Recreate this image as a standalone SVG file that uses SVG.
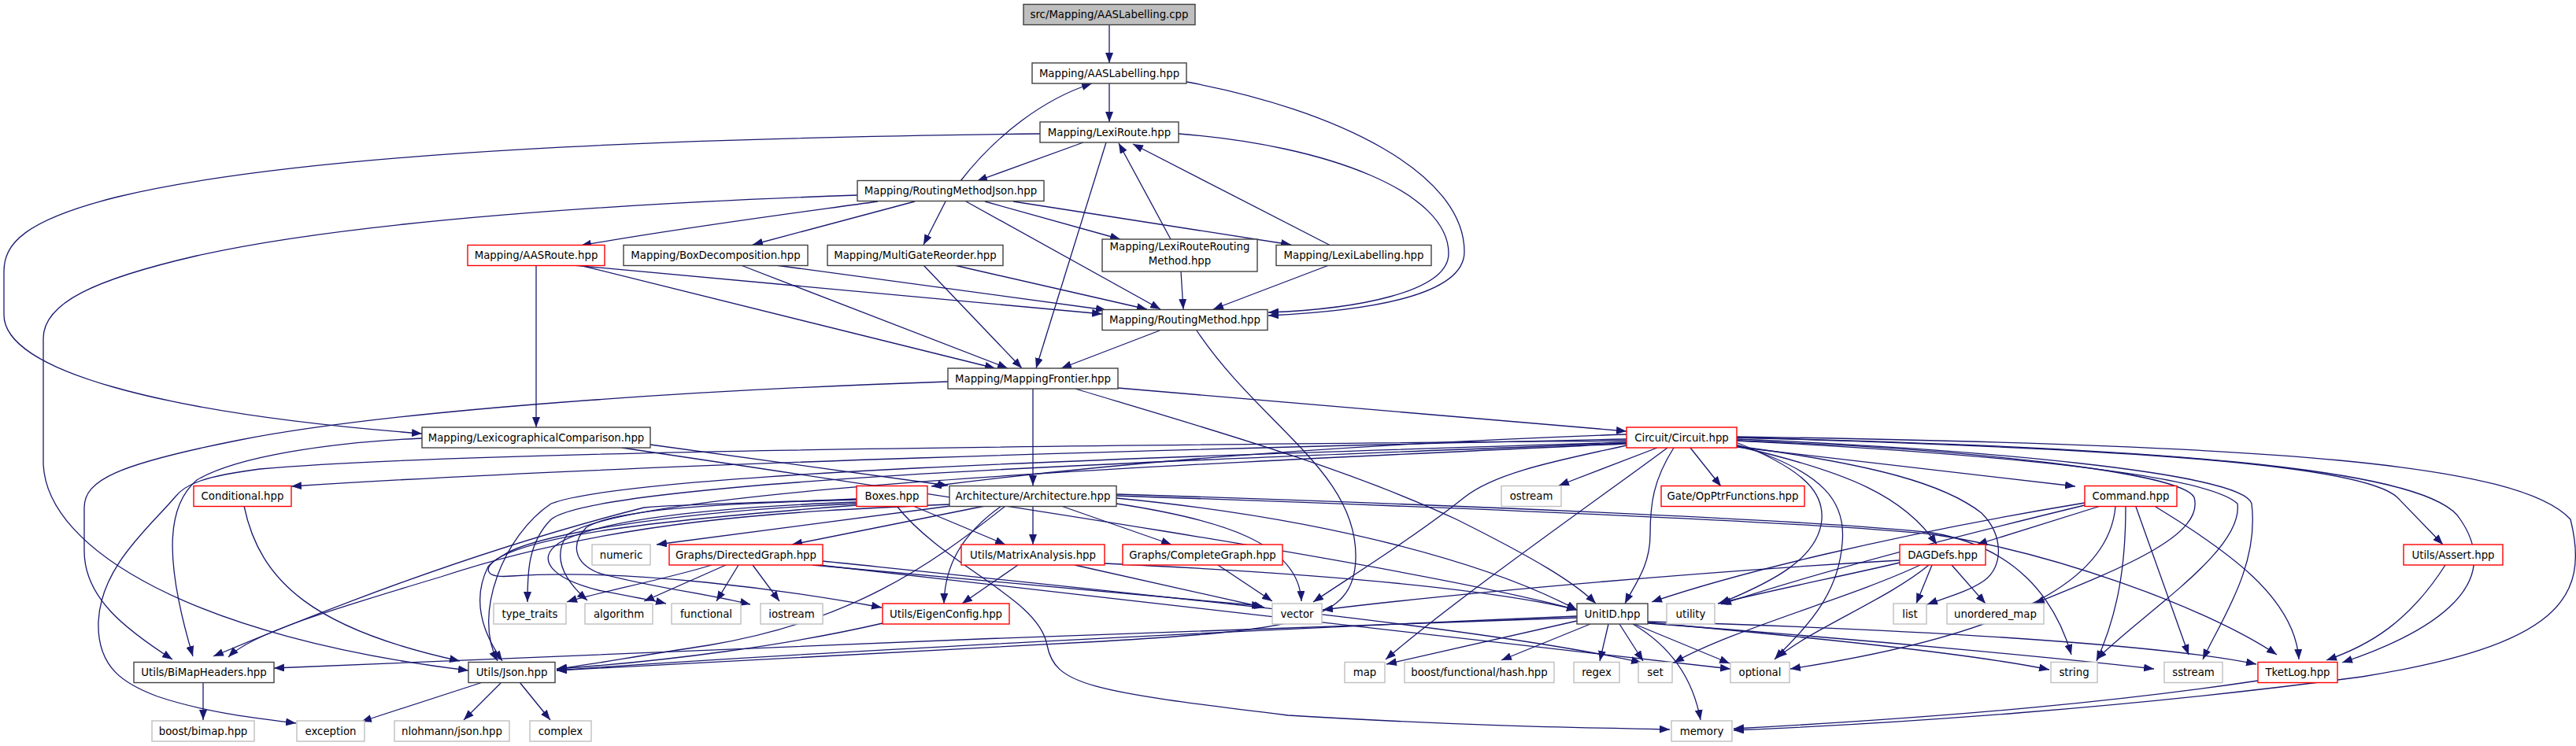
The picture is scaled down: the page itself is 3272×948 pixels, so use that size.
<svg xmlns="http://www.w3.org/2000/svg" width="3272" height="948" viewBox="0 0 3272 948">
<defs>
<marker id="a" markerUnits="userSpaceOnUse" markerWidth="13" markerHeight="10" refX="13" refY="5" orient="auto" viewBox="0 0 13 10"><path d="M0,0 L13,5 L0,10 z" fill="#191970"/></marker>
<style>
.n rect{fill:#fff;stroke-width:1.4}
.b rect{stroke:#404040}
.r rect{stroke:#ff0000}
.g rect{stroke:#bfbfbf}
.root rect{fill:#bfbfbf;stroke:#404040}
text{font-family:"DejaVu Sans","Liberation Sans",sans-serif;font-size:13.3px;text-anchor:middle;fill:#000}
#edges path{fill:none;stroke:#191970;stroke-width:1.3;marker-end:url(#a)}
</style>
</defs>
<rect width="3272" height="948" fill="#fff"/>
<g id="edges">
<path d="M1409,31 L1409,80"/>
<path d="M1409,106 L1409,155"/>
<path d="M1507,104 C1700,140 1860,220 1860,320 C1860,375 1740,395 1611,401"/>
<path d="M1376,181 L1241,230"/>
<path d="M1497,170 C1690,185 1840,245 1840,322 C1840,372 1720,393 1611,397"/>
<path d="M1405,181 L1316,468"/>
<path d="M1321,170 C900,175 400,190 150,250 C30,280 5,310 5,345 L5,400 C5,470 200,525 536,551"/>
<path d="M1220,230 C1265,172 1325,126 1387,106"/>
<path d="M1115,256 C1000,272 860,290 738,312"/>
<path d="M1162,256 L956,311"/>
<path d="M1201,256 L1173,311"/>
<path d="M1227,256 L1474,393"/>
<path d="M1251,256 L1423,304"/>
<path d="M1287,256 L1640,311"/>
<path d="M1089,248 C800,258 450,280 250,325 C120,355 55,385 55,430 L55,590 C60,700 250,810 595,852"/>
<path d="M1487,304 L1421,182"/>
<path d="M1690,312 L1439,183"/>
<path d="M1500,345 L1503,393"/>
<path d="M1688,337 L1541,393"/>
<path d="M681,337 L681,543"/>
<path d="M728,337 L1400,399"/>
<path d="M736,337 L1264,468"/>
<path d="M941,337 L1280,468"/>
<path d="M985,337 L1405,394"/>
<path d="M1173,337 L1298,468"/>
<path d="M1212,337 L1457,393"/>
<path d="M1473,420 L1348,468"/>
<path d="M1520,420 C1600,540 1725,600 1722,710 C1720,790 1650,800 1400,815 C1100,830 850,845 707,852"/>
<path d="M1312,494 L1312,617"/>
<path d="M1420,493 L2066,548"/>
<path d="M1366,494 C1500,535 1700,590 1850,660 C1950,710 2000,740 2027,767"/>
<path d="M1204,485 C900,495 500,520 300,560 C150,590 107,610 107,645 L107,700 C107,760 160,800 219,838"/>
<path d="M826,565 L1204,617"/>
<path d="M790,569 C1200,630 1800,720 2003,775"/>
<path d="M536,557 C420,562 300,580 250,610 C215,640 205,700 245,834"/>
<path d="M2066,558 C1500,570 800,590 370,618"/>
<path d="M2066,552 C1700,565 1400,590 1183,618"/>
<path d="M1088,634 C950,640 880,640 818,645 C600,700 400,780 271,834"/>
<path d="M1206,641 C1000,650 780,660 560,733 C420,775 320,805 290,835"/>
<path d="M2066,562 C1500,580 800,600 700,640 C640,680 600,780 632,840"/>
<path d="M1088,642 C850,660 650,680 620,720 C600,760 610,800 638,840"/>
<path d="M2066,563 C1500,585 760,610 700,660 C670,690 670,730 670,765"/>
<path d="M2066,564 C1500,590 800,620 720,680 C700,710 720,740 746,763"/>
<path d="M1088,638 C900,645 760,660 710,690 C680,710 700,735 760,750 C800,758 830,763 846,767"/>
<path d="M1088,635 C900,640 780,648 745,670 C725,690 728,715 760,728 C820,745 900,755 953,768"/>
<path d="M1088,640 C850,650 680,680 640,705 C610,722 615,735 650,732 C800,722 1000,750 1120,772"/>
<path d="M2066,566 C1980,585 1900,600 1860,632 C1800,680 1720,730 1668,765"/>
<path d="M1418,640 C1550,660 1650,690 1653,764"/>
<path d="M2066,560 C1400,566 600,572 330,596 C260,605 235,615 222,632 C190,670 128,720 125,790 C123,850 160,870 200,885 C260,905 320,912 376,919"/>
<path d="M2105,569 L1980,617"/>
<path d="M2118,569 C2050,620 1850,760 1760,838"/>
<path d="M2126,569 C2100,610 2096,640 2096,680 C2096,720 2075,745 2064,767"/>
<path d="M2147,569 L2186,618"/>
<path d="M2205,562 C2300,600 2316,630 2314,660 C2310,710 2250,740 2184,767"/>
<path d="M2206,565 C2320,600 2345,640 2340,690 C2335,760 2290,800 2254,838"/>
<path d="M2206,567 C2350,600 2420,632 2460,692"/>
<path d="M2206,567 C2380,590 2470,615 2517,652 C2545,680 2545,720 2520,738 C2500,752 2470,760 2448,768"/>
<path d="M2206,568 L2636,618"/>
<path d="M2206,560 C2500,570 2770,600 2787,632 C2800,680 2700,720 2584,767"/>
<path d="M2206,560 C2500,575 2800,600 2842,640 C2850,700 2720,780 2663,838"/>
<path d="M2206,558 C2500,570 2850,600 2860,640 C2870,720 2820,790 2798,838"/>
<path d="M2206,556 C2700,570 3000,590 3045,632 L3103,692"/>
<path d="M2206,556 C2800,570 3090,600 3125,660 C3180,740 3100,800 2975,842"/>
<path d="M2206,555 C2900,565 3200,590 3265,660 C3290,760 3250,820 3000,860 C2700,900 2400,920 2202,928"/>
<path d="M2868,865 C2700,890 2500,910 2202,926"/>
<path d="M2668,643 L2511,692"/>
<path d="M2648,639 C2400,680 2200,730 2098,765"/>
<path d="M2648,642 C2450,690 2300,730 2186,768"/>
<path d="M2687,644 C2680,720 2600,800 2274,850"/>
<path d="M2700,644 C2700,720 2690,780 2663,840"/>
<path d="M2713,644 L2780,832"/>
<path d="M2738,644 C2830,700 2915,760 2920,838"/>
<path d="M2413,712 C2100,730 1800,760 1680,775"/>
<path d="M2454,718 L2434,767"/>
<path d="M2479,718 L2522,767"/>
<path d="M2439,718 C2350,760 2200,800 2126,842"/>
<path d="M2450,718 C2400,760 2300,800 2257,836"/>
<path d="M2413,715 C2350,730 2250,750 2182,767"/>
<path d="M2003,789 L1761,844"/>
<path d="M2020,793 L1907,839"/>
<path d="M2043,793 L2032,840"/>
<path d="M2057,793 L2087,840"/>
<path d="M2074,793 C2120,820 2150,860 2160,915"/>
<path d="M2076,793 L2197,843"/>
<path d="M2093,791 C2300,810 2500,830 2603,851"/>
<path d="M2093,792 C2400,815 2650,840 2736,850"/>
<path d="M2093,790 C2450,800 2750,820 2866,844"/>
<path d="M2003,783 C1600,800 1000,830 707,852"/>
<path d="M2003,785 C1500,800 800,830 348,849"/>
<path d="M1312,643 L1312,692"/>
<path d="M1272,643 C1220,680 1200,720 1199,767"/>
<path d="M1251,643 L1006,692"/>
<path d="M1348,643 L1488,692"/>
<path d="M1277,643 C1180,720 1080,790 900,820 C800,835 750,845 707,850"/>
<path d="M1207,643 L834,692"/>
<path d="M1418,633 C1700,660 1900,720 2003,775"/>
<path d="M1418,628 C1800,640 2300,660 2454,677 C2560,695 2610,760 2631,832"/>
<path d="M1418,630 C1800,643 2300,663 2454,679 C2600,700 2800,770 2892,832"/>
<path d="M904,718 C850,735 750,755 720,765"/>
<path d="M922,718 L818,764"/>
<path d="M938,718 L910,764"/>
<path d="M956,718 L990,764"/>
<path d="M1032,718 L1603,770"/>
<path d="M1045,713 C1500,760 1900,800 2085,842"/>
<path d="M1040,718 C1500,770 2000,830 2198,850"/>
<path d="M1293,718 L1222,767"/>
<path d="M1365,718 L1606,772"/>
<path d="M1403,716 C1700,730 1900,750 2003,775"/>
<path d="M1547,718 L1616,764"/>
<path d="M1139,643 C1200,720 1320,760 1330,820 C1340,870 1380,878 1636,909 C1900,925 2050,925 2121,927"/>
<path d="M1160,643 L1277,692"/>
<path d="M1121,792 C1000,820 850,840 707,850"/>
<path d="M310,643 C330,740 400,800 584,840"/>
<path d="M613,867 L459,917"/>
<path d="M637,867 L589,915"/>
<path d="M660,867 L699,915"/>
<path d="M258,867 L258,915"/>
<path d="M3106,718 C3060,790 3010,820 2955,839"/>
</g>
<g id="n0" class="n root"><rect x="1300" y="5.5" width="218" height="26"/><text x="1409" y="23.2">src/Mapping/AASLabelling.cpp</text></g>
<g id="n1" class="n b"><rect x="1311" y="80" width="196" height="26"/><text x="1409" y="97.7">Mapping/AASLabelling.hpp</text></g>
<g id="n2" class="n b"><rect x="1321" y="155" width="176" height="26"/><text x="1409" y="172.7">Mapping/LexiRoute.hpp</text></g>
<g id="n3" class="n b"><rect x="1089" y="229.5" width="237" height="26"/><text x="1207.5" y="247.2">Mapping/RoutingMethodJson.hpp</text></g>
<g id="n4" class="n r"><rect x="594" y="311.5" width="174" height="26"/><text x="681" y="329.2">Mapping/AASRoute.hpp</text></g>
<g id="n5" class="n b"><rect x="792" y="311.5" width="234" height="26"/><text x="909" y="329.2">Mapping/BoxDecomposition.hpp</text></g>
<g id="n6" class="n b"><rect x="1051" y="311.5" width="223" height="26"/><text x="1162.5" y="329.2">Mapping/MultiGateReorder.hpp</text></g>
<g id="n7" class="n b"><rect x="1400" y="304" width="197" height="41"/><text x="1498.5" y="318.2">Mapping/LexiRouteRouting</text><text x="1498.5" y="335.7">Method.hpp</text></g>
<g id="n8" class="n b"><rect x="1621" y="311.5" width="197" height="26"/><text x="1719.5" y="329.2">Mapping/LexiLabelling.hpp</text></g>
<g id="n9" class="n b"><rect x="1400" y="393.5" width="210" height="26"/><text x="1505" y="411.2">Mapping/RoutingMethod.hpp</text></g>
<g id="n10" class="n b"><rect x="1204" y="468" width="216" height="26"/><text x="1312" y="485.7">Mapping/MappingFrontier.hpp</text></g>
<g id="n11" class="n b"><rect x="536" y="543" width="290" height="26"/><text x="681" y="560.7">Mapping/LexicographicalComparison.hpp</text></g>
<g id="n12" class="n r"><rect x="2066" y="543" width="140" height="26"/><text x="2136" y="560.7">Circuit/Circuit.hpp</text></g>
<g id="n13" class="n r"><rect x="246" y="617.5" width="124" height="26"/><text x="308" y="635.2">Conditional.hpp</text></g>
<g id="n14" class="n r"><rect x="1088" y="617.5" width="90" height="26"/><text x="1133" y="635.2">Boxes.hpp</text></g>
<g id="n15" class="n b"><rect x="1206" y="617.5" width="212" height="26"/><text x="1312" y="635.2">Architecture/Architecture.hpp</text></g>
<g id="n16" class="n g"><rect x="1907" y="617.5" width="76" height="26"/><text x="1945" y="635.2">ostream</text></g>
<g id="n17" class="n r"><rect x="2110" y="617.5" width="182" height="26"/><text x="2201" y="635.2">Gate/OpPtrFunctions.hpp</text></g>
<g id="n18" class="n r"><rect x="2648" y="617.5" width="117" height="26"/><text x="2706.5" y="635.2">Command.hpp</text></g>
<g id="n19" class="n r"><rect x="3053" y="692" width="126" height="26"/><text x="3116" y="709.7">Utils/Assert.hpp</text></g>
<g id="n20" class="n g"><rect x="752" y="692" width="74" height="26"/><text x="789" y="709.7">numeric</text></g>
<g id="n21" class="n r"><rect x="850" y="692" width="195" height="26"/><text x="947.5" y="709.7">Graphs/DirectedGraph.hpp</text></g>
<g id="n22" class="n r"><rect x="1221" y="692" width="182" height="26"/><text x="1312" y="709.7">Utils/MatrixAnalysis.hpp</text></g>
<g id="n23" class="n r"><rect x="1426" y="692" width="203" height="26"/><text x="1527.5" y="709.7">Graphs/CompleteGraph.hpp</text></g>
<g id="n24" class="n r"><rect x="2413" y="692" width="109" height="26"/><text x="2467.5" y="709.7">DAGDefs.hpp</text></g>
<g id="n25" class="n g"><rect x="627" y="767" width="92" height="26"/><text x="673" y="784.7">type_traits</text></g>
<g id="n26" class="n g"><rect x="743" y="767" width="86" height="26"/><text x="786" y="784.7">algorithm</text></g>
<g id="n27" class="n g"><rect x="853" y="767" width="88" height="26"/><text x="897" y="784.7">functional</text></g>
<g id="n28" class="n g"><rect x="966" y="767" width="79" height="26"/><text x="1005.5" y="784.7">iostream</text></g>
<g id="n29" class="n r"><rect x="1121" y="767" width="161" height="26"/><text x="1201.5" y="784.7">Utils/EigenConfig.hpp</text></g>
<g id="n30" class="n g"><rect x="1616" y="767" width="63" height="26"/><text x="1647.5" y="784.7">vector</text></g>
<g id="n31" class="n b"><rect x="2003" y="767" width="90" height="26"/><text x="2048" y="784.7">UnitID.hpp</text></g>
<g id="n32" class="n g"><rect x="2117" y="767" width="61" height="26"/><text x="2147.5" y="784.7">utility</text></g>
<g id="n33" class="n g"><rect x="2405" y="767" width="42" height="26"/><text x="2426" y="784.7">list</text></g>
<g id="n34" class="n g"><rect x="2473" y="767" width="123" height="26"/><text x="2534.5" y="784.7">unordered_map</text></g>
<g id="n35" class="n b"><rect x="170" y="841.5" width="178" height="26"/><text x="259" y="859.2">Utils/BiMapHeaders.hpp</text></g>
<g id="n36" class="n b"><rect x="595" y="841.5" width="110" height="26"/><text x="650" y="859.2">Utils/Json.hpp</text></g>
<g id="n37" class="n g"><rect x="1708" y="841.5" width="51" height="26"/><text x="1733.5" y="859.2">map</text></g>
<g id="n38" class="n g"><rect x="1784" y="841.5" width="190" height="26"/><text x="1879" y="859.2">boost/functional/hash.hpp</text></g>
<g id="n39" class="n g"><rect x="1999" y="841.5" width="58" height="26"/><text x="2028" y="859.2">regex</text></g>
<g id="n40" class="n g"><rect x="2081" y="841.5" width="43" height="26"/><text x="2102.5" y="859.2">set</text></g>
<g id="n41" class="n g"><rect x="2198" y="841.5" width="75" height="26"/><text x="2235.5" y="859.2">optional</text></g>
<g id="n42" class="n g"><rect x="2605" y="841.5" width="59" height="26"/><text x="2634.5" y="859.2">string</text></g>
<g id="n43" class="n g"><rect x="2749" y="841.5" width="74" height="26"/><text x="2786" y="859.2">sstream</text></g>
<g id="n44" class="n r"><rect x="2868" y="841.5" width="101" height="26"/><text x="2918.5" y="859.2">TketLog.hpp</text></g>
<g id="n45" class="n g"><rect x="193" y="916" width="130" height="26"/><text x="258" y="933.7">boost/bimap.hpp</text></g>
<g id="n46" class="n g"><rect x="377" y="916" width="86" height="26"/><text x="420" y="933.7">exception</text></g>
<g id="n47" class="n g"><rect x="501" y="916" width="146" height="26"/><text x="574" y="933.7">nlohmann/json.hpp</text></g>
<g id="n48" class="n g"><rect x="673" y="916" width="78" height="26"/><text x="712" y="933.7">complex</text></g>
<g id="n49" class="n g"><rect x="2123" y="916" width="77" height="26"/><text x="2161.5" y="933.7">memory</text></g>
</svg>
